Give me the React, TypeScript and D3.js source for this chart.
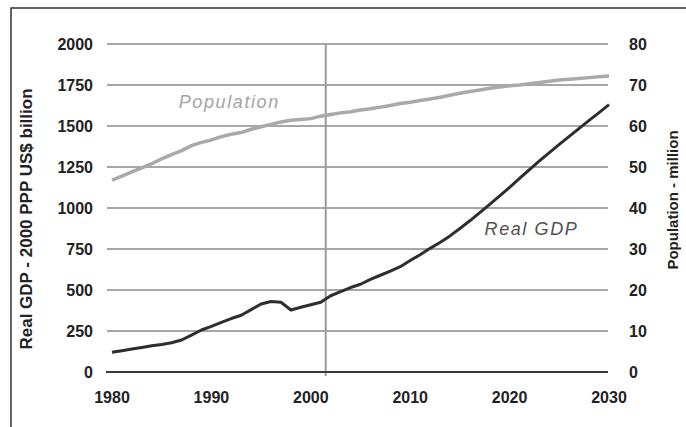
import React from "react";
import * as d3 from "d3";

const years: number[] = d3.range(1980, 2031);

const gdpValues: number[] = [
  120, 130, 140, 150, 160, 168, 178, 195, 225, 256,
  278, 302, 326, 346, 380, 415, 430, 425, 378, 395,
  410, 425, 465, 490, 515, 535, 565, 590, 615, 642,
  680, 715, 754, 790, 830, 875, 922, 972, 1022, 1074,
  1126, 1180, 1234, 1287, 1338, 1388, 1437, 1486, 1534, 1582,
  1630,
];

const populationValues: number[] = [
  46.8, 47.8, 48.8, 49.8, 50.8, 52.0, 53.0, 54.0, 55.2, 56.0,
  56.6, 57.4, 58.0, 58.4, 59.2, 59.8, 60.4, 61.0, 61.4, 61.6,
  61.8, 62.4, 62.8, 63.2, 63.5, 63.9, 64.2, 64.6, 65.0, 65.5,
  65.8, 66.2, 66.6, 67.0, 67.5, 68.0, 68.4, 68.8, 69.2, 69.5,
  69.8, 70.0, 70.3, 70.6, 70.9, 71.2, 71.4, 71.6, 71.8, 72.0,
  72.2,
];

const xTicks: number[] = [1980, 1990, 2000, 2010, 2020, 2030];
const leftTicks: number[] = [0, 250, 500, 750, 1000, 1250, 1500, 1750, 2000];
const rightTicks: number[] = [0, 10, 20, 30, 40, 50, 60, 70, 80];
const forecastStart = 2001.5;

const leftTitle = "Real GDP - 2000 PPP US$ billion";
const rightTitle = "Population - million";
const popLabel = { text: "Population", year: 1991.8, value: 64.4 };
const gdpLabel = { text: "Real GDP", year: 2022.2, value: 835 };

export default function App() {
  const x = d3.scaleLinear().domain([1980, 2030]).range([112, 609]);
  const yL = d3.scaleLinear().domain([0, 2000]).range([372, 44]);
  const yR = d3.scaleLinear().domain([0, 80]).range([372, 44]);

  const gdpLine = d3
    .line<number>()
    .x((_, i) => x(years[i]))
    .y((d) => yL(d));
  const popLine = d3
    .line<number>()
    .x((_, i) => x(years[i]))
    .y((d) => yR(d));

  const font = "'Liberation Sans', Arial, sans-serif";

  return (
    <svg
      width={686}
      height={427}
      style={{ position: "absolute", left: 0, top: 0, background: "#fff" }}
      fontFamily={font}
    >
      <rect x={11} y={8} width={800} height={600} fill="#fff" stroke="#333" strokeWidth={1.5} />
      {leftTicks.map((t) =>
        t === 0 ? null : (
          <line key={t} x1={107} x2={608} y1={yL(t)} y2={yL(t)} stroke="#8a8a8a" strokeWidth={1.5} />
        )
      )}
      <line
        x1={x(forecastStart)}
        x2={x(forecastStart)}
        y1={yL(2000)}
        y2={376}
        stroke="#9a9a9a"
        strokeWidth={2}
      />
      <line x1={106} x2={608} y1={yL(0)} y2={yL(0)} stroke="#3a3a3a" strokeWidth={2.2} />

      <path d={popLine(populationValues) || ""} fill="none" stroke="#a9a9a9" strokeWidth={3.5} strokeLinejoin="round" />
      <path d={gdpLine(gdpValues) || ""} fill="none" stroke="#2e2e2e" strokeWidth={3} strokeLinejoin="round" />

      {leftTicks.map((t) => (
        <text key={t} x={93} y={yL(t) + 5.5} textAnchor="end" fontSize={16} fontWeight="bold" fill="#222">
          {t}
        </text>
      ))}
      {rightTicks.map((t) => (
        <text key={t} x={629} y={yR(t) + 5.5} textAnchor="start" fontSize={16} fontWeight="bold" fill="#222">
          {t}
        </text>
      ))}
      {xTicks.map((t) => (
        <text key={t} x={x(t)} y={403} textAnchor="middle" fontSize={16} fontWeight="bold" fill="#222">
          {t}
        </text>
      ))}

      <text
        transform={`translate(32,219) rotate(-90)`}
        textAnchor="middle"
        fontSize={17}
        fontWeight="bold"
        fill="#222"
      >
        {leftTitle}
      </text>
      <text
        transform={`translate(678,200) rotate(-90)`}
        textAnchor="middle"
        fontSize={15}
        fontWeight="bold"
        fill="#222"
      >
        {rightTitle}
      </text>

      <text
        x={x(popLabel.year)}
        y={yR(popLabel.value)}
        textAnchor="middle"
        fontSize={18}
        fontStyle="italic"
        letterSpacing={1.6}
        fill="#a4a4a4"
      >
        {popLabel.text}
      </text>
      <text
        x={x(gdpLabel.year)}
        y={yL(gdpLabel.value)}
        textAnchor="middle"
        fontSize={18}
        fontStyle="italic"
        letterSpacing={1.6}
        fill="#505050"
      >
        {gdpLabel.text}
      </text>
    </svg>
  );
}
